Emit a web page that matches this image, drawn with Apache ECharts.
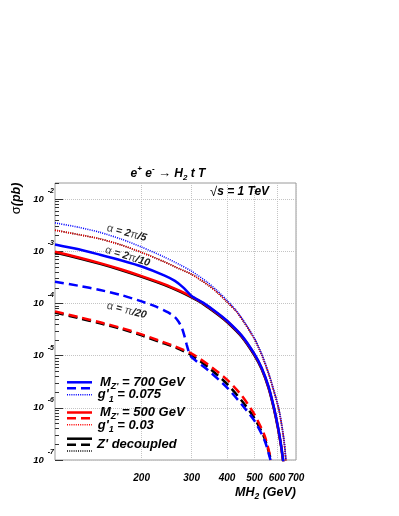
<!DOCTYPE html>
<html>
<head>
<meta charset="utf-8">
<script src="https://cdn.jsdelivr.net/npm/echarts@6/dist/echarts.min.js"></script>
<style>
  html, body { margin: 0; padding: 0; background: #fff; }
  #chart { width: 399px; height: 516px; }
</style>
</head>
<body>
<div id="chart"></div>
<script>
  const FONT = '"Liberation Sans", Arial, sans-serif'

  // axis labels
  const xLabels = [200, 300, 400, 500, 600, 700]
  const yLabels = [1e-7, 1e-6, 1e-5, 1e-4, 1e-3, 1e-2]

  // dotted curves (alpha = 2pi/5)
  const mDot = [99, 120, 142.7, 170, 200, 240, 273, 300, 340, 370, 400, 430, 460, 500, 531, 560, 585, 608, 625, 637, 645]
  const blueDot = [3.52e-3, 2.90e-3, 2.32e-3, 1.71e-3, 1.21e-3, 7.83e-4, 5.53e-4, 4.17e-4, 2.59e-4, 1.75e-4, 1.15e-4, 7.45e-5, 4.47e-5, 2.14e-5, 1.05e-5, 4.73e-6, 2.15e-6, 1.0e-6, 4.37e-7, 2.11e-7, 1.0e-7]
  const redDot = [2.55e-3, 2.10e-3, 1.74e-3, 1.32e-3, 9.55e-4, 6.34e-4, 4.59e-4, 3.63e-4, 2.34e-4, 1.62e-4, 1.07e-4, 7.19e-5, 4.32e-5, 2.07e-5, 1.01e-5, 4.57e-6, 2.09e-6, 9.66e-7, 4.22e-7, 2.04e-7, 9.55e-8]
  const blackDot = [2.55e-3, 2.10e-3, 1.74e-3, 1.32e-3, 9.55e-4, 6.34e-4, 4.59e-4, 3.63e-4, 2.34e-4, 1.62e-4, 1.07e-4, 7.19e-5, 4.32e-5, 2.07e-5, 1.01e-5, 4.57e-6, 2.09e-6, 9.66e-7, 4.22e-7, 2.04e-7, 9.55e-8]

  // solid curves (alpha = 2pi/10)
  const mSolid = [99, 120, 142.7, 170, 200, 240, 273, 300, 330, 370, 400, 450, 500, 530, 560, 585, 605, 620, 632]
  const redSolid = [9.84e-4, 7.66e-4, 5.96e-4, 4.50e-4, 3.36e-4, 2.36e-4, 1.75e-4, 1.36e-4, 1.01e-4, 6.46e-5, 4.57e-5, 2.40e-5, 1.05e-5, 5.69e-6, 2.51e-6, 1.0e-6, 4.17e-7, 1.91e-7, 8.91e-8]
  const blackSolid = [9.51e-4, 7.40e-4, 5.76e-4, 4.35e-4, 3.25e-4, 2.28e-4, 1.69e-4, 1.31e-4, 9.76e-5, 6.24e-5, 4.41e-5, 2.32e-5, 1.01e-5, 5.50e-6, 2.42e-6, 9.66e-7, 4.03e-7, 1.85e-7, 8.6e-8]
  const mSolidBlue = [99, 120, 142.7, 170, 200, 240, 262, 280, 300, 330, 370, 400, 450, 500, 530, 560, 585, 605, 620, 632]
  const blueSolid = [1.36e-3, 1.096e-3, 8.61e-4, 6.68e-4, 5.13e-4, 3.47e-4, 2.72e-4, 2.04e-4, 1.40e-4, 1.03e-4, 6.61e-5, 4.68e-5, 2.45e-5, 1.07e-5, 5.82e-6, 2.57e-6, 1.02e-6, 4.27e-7, 1.95e-7, 9.12e-8]

  // dashed curves (alpha = pi/20)
  const mDashBlue = [99, 120, 142.7, 170, 200, 225, 248, 262, 270, 277, 283, 288, 293, 297, 300, 343, 400, 450, 500, 543, 569]
  const blueDash = [2.63e-4, 2.19e-4, 1.82e-4, 1.45e-4, 1.10e-4, 8.71e-5, 6.76e-5, 5.50e-5, 4.47e-5, 3.47e-5, 2.40e-5, 1.66e-5, 1.20e-5, 1.02e-5, 9.33e-6, 5.25e-6, 2.45e-6, 1.17e-6, 5.62e-7, 2.34e-7, 1.0e-7]
  const mDash = [99, 120, 142.7, 170, 200, 230, 262, 300, 343, 400, 450, 500, 543, 572]
  const redDash = [7.08e-5, 5.50e-5, 4.37e-5, 3.39e-5, 2.57e-5, 1.95e-5, 1.51e-5, 1.10e-5, 6.76e-6, 3.47e-6, 1.74e-6, 7.41e-7, 2.88e-7, 1.0e-7]
  const blackDash = [6.76e-5, 5.25e-5, 4.17e-5, 3.24e-5, 2.45e-5, 1.86e-5, 1.45e-5, 1.02e-5, 6.03e-6, 2.88e-6, 1.38e-6, 6.31e-7, 2.57e-7, 0.98e-7]

  const BLUE = '#0000ff'
  const RED = '#ff0000'
  const BLACK = '#000000'
  const DASH = [9, 5]
  const DOT = [1, 1.2]

  // minor ticks on the y axis (2..9 in each decade)
  let yMinor = []
  for (let e = -7; e <= -2; e++) {
    for (let k = 2; k <= 9; k++) {
      let v = k * Math.pow(10, e)
      if (v < 0.0205) yMinor.push(v)
    }
  }

  function curve (m, s, color, type, width) {
    return {
      type: 'line',
      data: m.map((v, i) => [v, s[i]]),
      showSymbol: false,
      symbol: 'none',
      smooth: 0.25,
      clip: true,
      silent: true,
      lineStyle: {color: color, width: width, type: type},
      itemStyle: {color: color}
    }
  }

  const bi = {fontFamily: FONT, fontWeight: 'bold', fontStyle: 'italic', fill: '#000'}

  function txt (x, y, text, rich, opts) {
    return Object.assign({
      type: 'text', x: x, y: y, z: 100,
      style: Object.assign({
        text: text, rich: rich,
        align: 'left', textAlign: 'left',
        verticalAlign: 'middle', textVerticalAlign: 'middle'
      }, opts && opts.style)
    }, opts && opts.el)
  }

  function seg (y, color, dash, width) {
    return {
      type: 'line', z: 100,
      shape: {x1: 67, y1: y, x2: 92, y2: y},
      style: {stroke: color, lineWidth: width, lineDash: dash}
    }
  }

  const legRich = {
    n: Object.assign({fontSize: 13, verticalAlign: 'middle'}, bi),
    sub: Object.assign({fontSize: 9, padding: [9, 0, 0, 0], verticalAlign: 'middle'}, bi)
  }
  const alphaRich = {
    g: {fontFamily: FONT, fontSize: 11, fill: '#444', verticalAlign: 'middle'},
    n: Object.assign({}, bi, {fontSize: 10.5, fill: '#222', verticalAlign: 'middle'})
  }
  const titleRich = {
    n: Object.assign({fontSize: 12, verticalAlign: 'middle'}, bi),
    a: {fontFamily: FONT, fontSize: 13, fill: '#000', verticalAlign: 'middle'},
    sup: Object.assign({fontSize: 8, padding: [0, 0, 9, 0], verticalAlign: 'middle'}, bi),
    sub: Object.assign({fontSize: 8, padding: [8, 0, 0, 0], verticalAlign: 'middle'}, bi)
  }

  let option = {
    backgroundColor: '#fff',
    animation: false,
    grid: {show: true, left: 55, top: 183, width: 241, height: 277, borderColor: '#9a9a9a', borderWidth: 1, backgroundColor: 'transparent'},
    xAxis: [{
      type: 'log', logBase: 10, min: 99, max: 700,
      axisLine: {show: false},
      axisTick: {show: false, customValues: xLabels},
      axisLabel: {customValues: xLabels, margin: 13, fontFamily: FONT, fontSize: 10, fontWeight: 'bold', fontStyle: 'italic', color: '#000'},
      splitLine: {show: true, lineStyle: {color: '#c4c4c4', width: 1, type: [1, 1]}}
    }],
    yAxis: [{
      type: 'log', logBase: 10, min: 1e-7, max: 0.0205,
      axisLine: {show: false},
      axisTick: {show: true, inside: true, length: 8, customValues: yLabels, lineStyle: {color: '#333', width: 1}},
      axisLabel: {
        customValues: yLabels, margin: 1,
        formatter: v => '{b|10}{s|' + Math.round(Math.log10(v)) + '}',
        rich: {
          b: {fontFamily: FONT, fontSize: 9.5, fontWeight: 'bold', fontStyle: 'italic', color: '#000', verticalAlign: 'middle'},
          s: {fontFamily: FONT, fontSize: 7, fontWeight: 'bold', fontStyle: 'italic', color: '#000', verticalAlign: 'middle', padding: [0, 0, 16, 4]}
        }
      },
      splitLine: {show: true, lineStyle: {color: '#c4c4c4', width: 1, type: [1, 1]}}
    }, {
      type: 'log', logBase: 10, min: 1e-7, max: 0.0205, position: 'left',
      axisLine: {show: false},
      axisTick: {show: true, inside: true, length: 4, customValues: yMinor, lineStyle: {color: '#333', width: 1}},
      axisLabel: {show: false},
      splitLine: {show: false}
    }],
    series: [
      curve(mDot, blackDot, BLACK, DOT, 1.6),
      curve(mSolid, blackSolid, BLACK, 'solid', 2.5),
      curve(mDash, blackDash, BLACK, DASH, 2.5),
      curve(mDot, redDot, RED, DOT, 1.6),
      curve(mSolid, redSolid, RED, 'solid', 2.5),
      curve(mDash, redDash, RED, DASH, 2.5),
      curve(mDot, blueDot, BLUE, DOT, 1.6),
      curve(mSolidBlue, blueSolid, BLUE, 'solid', 2.5),
      curve(mDashBlue, blueDash, BLUE, DASH, 2.5)
    ],
    graphic: [
      // title
      txt(168, 173.5, '{n|e}{sup|+} {n|e}{sup|-} {a|\u2192} {n|H}{sub|2}{n| t T}', titleRich, {style: {align: 'center', textAlign: 'center'}}),
      txt(210, 192, '{a|\u221A}{n|s = 1 TeV}', titleRich),
      // axis titles
      txt(16.7, 198.5, '{g|\u03C3}{n|(pb)}', {
        g: {fontFamily: FONT, fontSize: 13, fill: '#000', verticalAlign: 'middle'},
        n: Object.assign({fontSize: 12.5, verticalAlign: 'middle'}, bi)
      }, {el: {rotation: Math.PI / 2}, style: {align: 'center', textAlign: 'center'}}),
      txt(296, 493, '{n|MH}{sub|2}{n| (GeV)}', {
        n: Object.assign({fontSize: 12.5, verticalAlign: 'middle'}, bi),
        sub: Object.assign({fontSize: 8.5, padding: [8, 0, 0, 0], verticalAlign: 'middle'}, bi)
      }, {style: {align: 'right', textAlign: 'right'}}),
      // curve labels
      txt(126.7, 233, '{g|\u03B1}{n| = 2}{g|\u03C0}{n|/5}', alphaRich, {el: {rotation: -0.26}, style: {align: 'center', textAlign: 'center'}}),
      txt(127.5, 256.5, '{g|\u03B1}{n| = 2}{g|\u03C0}{n|/10}', alphaRich, {el: {rotation: -0.3}, style: {align: 'center', textAlign: 'center'}}),
      txt(126.7, 310.5, '{g|\u03B1}{n| = }{g|\u03C0}{n|/20}', alphaRich, {el: {rotation: -0.25}, style: {align: 'center', textAlign: 'center'}}),
      // legend
      seg(382.3, BLUE, null, 2.5),
      seg(388.3, BLUE, DASH, 2.5),
      seg(394.7, BLUE, DOT, 1.6),
      txt(100, 382.2, '{n|M}{sub|Z\'}{n| = 700 GeV}', legRich),
      txt(97.7, 394.8, '{n|g\'}{sub|1}{n| = 0.075}', legRich),
      seg(412.5, RED, null, 2.5),
      seg(418.3, RED, DASH, 2.5),
      seg(424.8, RED, DOT, 1.6),
      txt(100, 412.2, '{n|M}{sub|Z\'}{n| = 500 GeV}', legRich),
      txt(97.7, 425.2, '{n|g\'}{sub|1}{n| = 0.03}', legRich),
      seg(438.7, BLACK, null, 2.5),
      seg(444.7, BLACK, DASH, 2.5),
      seg(451, BLACK, DOT, 1.6),
      txt(97, 444, '{n|Z\' decoupled}', legRich)
    ]
  }

  let chart = echarts.init(document.getElementById('chart'), null, {renderer: 'canvas'})
  chart.setOption(option)
</script>
</body>
</html>
